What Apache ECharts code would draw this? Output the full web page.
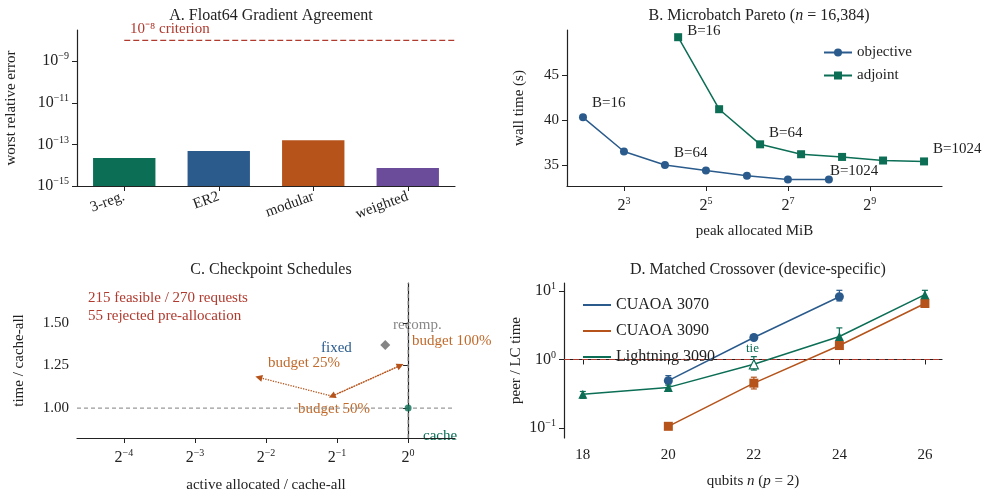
<!DOCTYPE html>
<html>
<head>
<meta charset="utf-8">
<script src="https://cdn.jsdelivr.net/npm/echarts@6/dist/echarts.min.js"></script>
<style>html,body{margin:0;background:#fff}#chart{width:993px;height:494px}</style>
</head>
<body>
<div id="chart"></div>
<script>
// A. gradient agreement
const graphTypes = ['3-reg.', 'ER2', 'modular', 'weighted'];
const worstError = [2.2e-14, 4.8e-14, 1.6e-13, 7.4e-15];
const criterion = 1e-8;

// B. microbatch pareto (MiB, seconds)
const objMiB = [4, 8, 16, 32, 64, 128, 256];
const objTime = [40.3, 36.5, 35.0, 34.4, 33.8, 33.4, 33.4];
const adjMiB = [20, 40, 80, 160, 320, 640, 1280];
const adjTime = [49.2, 41.2, 37.3, 36.2, 35.9, 35.5, 35.4];
const batchLabels = ['B=16', '', 'B=64', '', '', '', 'B=1024'];

// C. checkpoint schedules (ratio to cache-all)
const recompPoint = [0.8, 1.37];
const cachePoint = [1.0, 1.0];
const budgetMem = [0.233, 0.476, 0.927];
const budgetTime = [1.18, 1.07, 1.25];

// D. matched crossover
const qubits = [18, 20, 22, 24, 26];
const cuaoa3070 = [null, 0.49, 2.1, 8.3, null];
const cuaoa3070Lo = [null, 0.44, 1.95, 7.2, null];
const cuaoa3070Hi = [null, 0.58, 2.25, 10.3, null];
const cuaoa3090 = [null, 0.105, 0.45, 1.6, 6.6];
const cuaoa3090Lo = [null, 0.1, 0.37, 1.5, 6.3];
const cuaoa3090Hi = [null, 0.11, 0.55, 1.75, 7.0];
const light3090 = [0.31, 0.39, 0.85, 2.17, 8.9];
const light3090Lo = [0.27, 0.37, 0.7, 1.8, 7.7];
const light3090Hi = [0.34, 0.42, 1.1, 2.9, 10.3];

const GREEN = '#0b6e55', BLUE = '#2a5b8c', ORANGE = '#b5531a', PURPLE = '#6b4c9a', RED = '#b03a2e', GRAY = '#666';
const FONT = 'Liberation Serif';
const sup = { s: { fontSize: 10, fontFamily: FONT, color: '#222', padding: [0, 0, 9, 0] }, b: { fontSize: 16, fontFamily: FONT, color: '#222' } };
const powLabel = (base, e) => '{b|' + base + '}{s|' + String(e).replace('-', '−') + '}';
const lg10 = v => v == null ? null : Math.log10(v);
const lg2 = v => Math.log2(v);

const axisLine = { show: true, lineStyle: { color: '#222', width: 1.2 } };
const axisTick = { show: true, length: 5, lineStyle: { color: '#222' } };
const nameStyle = { fontFamily: FONT, fontSize: 15, color: '#222' };
const labelStyle = { fontFamily: FONT, fontSize: 15, color: '#222' };

const A_MIN = -15, A_MAX = -7.5;
const C_XMIN = -4.66, C_XMAX = 0.66, C_YMIN = 0.824, C_YMAX = 1.735;
const D_XMIN = 17.56, D_XMAX = 26.4;

const chart = echarts.init(document.getElementById('chart'));

function errBars(color, lo, hi) {
  return {
    type: 'custom', xAxisIndex: 3, yAxisIndex: 3, z: 1,
    data: qubits.map((q, i) => [q, lg10(lo[i]), lg10(hi[i])]).filter(d => d[1] != null),
    renderItem: (params, api) => {
      const a = api.coord([api.value(0), api.value(1)]);
      const b = api.coord([api.value(0), api.value(2)]);
      const st = { stroke: color, lineWidth: 1.2 };
      return { type: 'group', children: [
        { type: 'line', shape: { x1: a[0], y1: a[1], x2: b[0], y2: b[1] }, style: st },
        { type: 'line', shape: { x1: a[0] - 3, y1: a[1], x2: a[0] + 3, y2: a[1] }, style: st },
        { type: 'line', shape: { x1: b[0] - 3, y1: b[1], x2: b[0] + 3, y2: b[1] }, style: st }
      ] };
    }
  };
}

function batchData(xs, ys, offsets) {
  return xs.map((x, i) => {
    const item = { value: [lg2(x), ys[i]] };
    if (batchLabels[i]) item.label = { show: true, formatter: batchLabels[i], position: 'right', offset: offsets[i], fontFamily: FONT, fontSize: 15, color: '#222' };
    return item;
  });
}

function refLine(x, y, color, type) {
  return { type: 'line', xAxisIndex: x.axis, yAxisIndex: x.axis, symbol: 'none', silent: true, z: 0,
    lineStyle: { color, type, width: 1.2 }, data: x.pts };
}

const option = {
  animation: false,
  textStyle: { fontFamily: FONT },
  title: [
    { text: 'A. Float64 Gradient Agreement', left: 266, top: 3, textAlign: 'center' },
    { text: 'B. Microbatch Pareto ({i|n} = 16,384)', left: 754, top: 3, textAlign: 'center' },
    { text: 'C. Checkpoint Schedules', left: 266, top: 257, textAlign: 'center' },
    { text: 'D. Matched Crossover (device-specific)', left: 753, top: 257, textAlign: 'center' }
  ].map(t => Object.assign(t, { textStyle: { fontFamily: FONT, fontSize: 16, fontWeight: 'normal', color: '#222',
    rich: { i: { fontStyle: 'italic', fontFamily: FONT, fontSize: 16, color: '#222' } } } })),
  grid: [
    { left: 77, top: 30, width: 378, height: 156 },
    { left: 567, top: 30, width: 375, height: 156 },
    { left: 77, top: 283, width: 378, height: 155 },
    { left: 564, top: 283, width: 378, height: 155 }
  ],
  legend: [
    { data: ['objective', 'adjoint'], left: 818, top: 40, orient: 'vertical', itemGap: 8, itemWidth: 28, itemHeight: 10,
      textStyle: { fontFamily: FONT, fontSize: 15, color: '#222' } },
    { data: ['CUAOA 3070', 'CUAOA 3090', 'Lightning 3090'], left: 578, top: 292, orient: 'vertical', itemGap: 10, itemWidth: 28,
      icon: 'path://M0,0 L28,0 L28,2 L0,2 Z', itemHeight: 2,
      textStyle: { fontFamily: FONT, fontSize: 16, color: '#222' } }
  ],
  xAxis: [
    { type: 'category', gridIndex: 0, data: graphTypes, axisLine, axisTick: Object.assign({ alignWithLabel: true }, axisTick),
      axisLabel: Object.assign({ rotate: 20, margin: 10 }, labelStyle) },
    { type: 'value', gridIndex: 1, min: 1.61, max: 10.76, splitLine: { show: false }, axisLine,
      axisTick: Object.assign({ customValues: [3, 5, 7, 9] }, axisTick),
      axisLabel: { customValues: [3, 5, 7, 9], formatter: v => powLabel(2, v), rich: sup, margin: 10 },
      name: 'peak allocated MiB', nameLocation: 'middle', nameGap: 38, nameTextStyle: nameStyle },
    { type: 'value', gridIndex: 2, min: C_XMIN, max: C_XMAX, splitLine: { show: false }, axisLine,
      axisTick: Object.assign({ customValues: [-4, -3, -2, -1, 0] }, axisTick),
      axisLabel: { customValues: [-4, -3, -2, -1, 0], formatter: v => powLabel(2, v), rich: sup, margin: 10 },
      name: 'active allocated / cache-all', nameLocation: 'middle', nameGap: 40, nameTextStyle: nameStyle },
    { type: 'value', gridIndex: 3, min: D_XMIN, max: D_XMAX, splitLine: { show: false }, axisLine,
      axisTick: Object.assign({ customValues: qubits }, axisTick),
      axisLabel: Object.assign({ customValues: qubits, margin: 10 }, labelStyle),
      name: 'qubits {i|n} ({i|p} = 2)', nameLocation: 'middle', nameGap: 36,
      nameTextStyle: Object.assign({ rich: { i: { fontStyle: 'italic', fontFamily: FONT, fontSize: 15, color: '#222' } } }, nameStyle) }
  ],
  yAxis: [
    { type: 'value', gridIndex: 0, min: A_MIN, max: A_MAX, splitLine: { show: false }, axisLine,
      axisTick: Object.assign({ customValues: [-15, -13, -11, -9] }, axisTick),
      axisLabel: { customValues: [-15, -13, -11, -9], formatter: v => powLabel(10, v), rich: sup },
      name: 'worst relative error', nameLocation: 'middle', nameGap: 58, nameTextStyle: nameStyle },
    { type: 'value', gridIndex: 1, min: 32.67, max: 50, splitLine: { show: false }, axisLine,
      axisTick: Object.assign({ customValues: [35, 40, 45] }, axisTick),
      axisLabel: Object.assign({ customValues: [35, 40, 45] }, labelStyle),
      name: 'wall time (s)', nameLocation: 'middle', nameGap: 40, nameTextStyle: nameStyle },
    { type: 'value', gridIndex: 2, min: C_YMIN, max: C_YMAX, splitLine: { show: false }, axisLine,
      axisTick: Object.assign({ customValues: [1, 1.25, 1.5] }, axisTick),
      axisLabel: Object.assign({ customValues: [1, 1.25, 1.5], formatter: v => v.toFixed(2) }, labelStyle),
      name: 'time / cache-all', nameLocation: 'middle', nameGap: 50, nameTextStyle: nameStyle },
    { type: 'value', gridIndex: 3, min: -1.15, max: 1.12, splitLine: { show: false }, axisLine,
      axisTick: Object.assign({ customValues: [-1, 0, 1] }, axisTick),
      axisLabel: { customValues: [-1, 0, 1], formatter: v => powLabel(10, v), rich: sup },
      name: 'peer / LC time', nameLocation: 'middle', nameGap: 40, nameTextStyle: nameStyle }
  ],
  series: [
    { type: 'custom', xAxisIndex: 0, yAxisIndex: 0,
      data: worstError.map((v, i) => [i, lg10(v)]),
      renderItem: (params, api) => {
        const top = api.coord([api.value(0), api.value(1)]);
        const base = api.coord([api.value(0), A_MIN]);
        const w = api.size([1, 0])[0] * 0.66;
        return { type: 'rect', shape: { x: top[0] - w / 2, y: top[1], width: w, height: base[1] - top[1] },
          style: { fill: [GREEN, BLUE, ORANGE, PURPLE][params.dataIndex] } };
      } },
    { type: 'line', xAxisIndex: 0, yAxisIndex: 0, symbol: 'none', silent: true,
      lineStyle: { color: RED, type: [6, 3], width: 1.3 },
      data: [[-0.5, lg10(criterion)], [3.5, lg10(criterion)]] },

    { name: 'objective', type: 'line', xAxisIndex: 1, yAxisIndex: 1, color: BLUE, symbol: 'circle', symbolSize: 8,
      lineStyle: { width: 1.5 }, data: batchData(objMiB, objTime, [[0, -14], 0, [0, -12], 0, 0, 0, [-8, -8]]) },
    { name: 'adjoint', type: 'line', xAxisIndex: 1, yAxisIndex: 1, color: GREEN, symbol: 'rect', symbolSize: 8,
      lineStyle: { width: 1.5 }, data: batchData(adjMiB, adjTime, [[0, -6], 0, [0, -11], 0, 0, 0, [0, -12]]) },

    refLine({ axis: 2, pts: [[0, C_YMIN], [0, C_YMAX]] }, null, '#999', [4, 3]),
    refLine({ axis: 2, pts: [[C_XMIN, 1], [C_XMAX, 1]] }, null, '#999', [4, 3]),
    { type: 'scatter', xAxisIndex: 2, yAxisIndex: 2, symbol: 'diamond', symbolSize: 10, itemStyle: { color: GRAY },
      data: [[lg2(recompPoint[0]), recompPoint[1]]] },
    { type: 'scatter', xAxisIndex: 2, yAxisIndex: 2, symbol: 'circle', symbolSize: 7, itemStyle: { color: GREEN },
      data: [[lg2(cachePoint[0]), cachePoint[1]]] },
    { type: 'line', xAxisIndex: 2, yAxisIndex: 2, symbol: 'none', data: [],
      markLine: { silent: true, symbol: ['none', 'triangle'], symbolSize: 7, label: { show: false },
        lineStyle: { color: ORANGE, type: 'dotted', width: 1.3 },
        data: [
          [{ coord: [lg2(budgetMem[1]), budgetTime[1]] }, { coord: [lg2(budgetMem[0]), budgetTime[0]] }],
          [{ coord: [lg2(budgetMem[1]), budgetTime[1]] }, { coord: [lg2(budgetMem[2]), budgetTime[2]] }],
          [{ coord: [lg2(budgetMem[2]), budgetTime[2]] }, { coord: [lg2(budgetMem[1]), budgetTime[1]] }]
        ] } },

    refLine({ axis: 3, pts: [[D_XMIN, 0], [D_XMAX, 0]] }, null, RED, [6, 3]),
    errBars(BLUE, cuaoa3070Lo, cuaoa3070Hi),
    errBars(ORANGE, cuaoa3090Lo, cuaoa3090Hi),
    errBars(GREEN, light3090Lo, light3090Hi),
    { name: 'CUAOA 3070', type: 'line', xAxisIndex: 3, yAxisIndex: 3, color: BLUE, symbol: 'circle', symbolSize: 9, lineStyle: { width: 1.5 },
      data: qubits.map((q, i) => [q, lg10(cuaoa3070[i])]).filter(d => d[1] != null) },
    { name: 'CUAOA 3090', type: 'line', xAxisIndex: 3, yAxisIndex: 3, color: ORANGE, symbol: 'rect', symbolSize: 9, lineStyle: { width: 1.5 },
      data: qubits.map((q, i) => [q, lg10(cuaoa3090[i])]).filter(d => d[1] != null) },
    { name: 'Lightning 3090', type: 'line', xAxisIndex: 3, yAxisIndex: 3, color: GREEN, symbol: 'triangle', symbolSize: 9, lineStyle: { width: 1.5 },
      data: qubits.map((q, i) => {
        const d = { value: [q, lg10(light3090[i])] };
        if (q === 22) d.itemStyle = { color: '#fff', borderColor: GREEN, borderWidth: 1.2 };
        return d;
      }) }
  ],
  graphic: [
    { type: 'text', left: 130, top: 22, style: { text: '10⁻⁸ criterion', font: '15px ' + FONT, fill: RED } },
    { type: 'text', left: 88, top: 289, style: { text: '215 feasible / 270 requests\n55 rejected pre-allocation', font: '15px ' + FONT, fill: RED, lineHeight: 18 } },
    { type: 'text', left: 321, top: 341, style: { text: 'fixed', font: '15px ' + FONT, fill: BLUE } },
    { type: 'text', left: 393, top: 318, style: { text: 'recomp.', font: '15px ' + FONT, fill: '#888' } },
    { type: 'text', left: 412, top: 334, style: { text: 'budget 100%', font: '15px ' + FONT, fill: '#c0692a' } },
    { type: 'text', left: 268, top: 356, style: { text: 'budget 25%', font: '15px ' + FONT, fill: '#c0692a' } },
    { type: 'text', left: 298, top: 402, style: { text: 'budget 50%', font: '15px ' + FONT, fill: '#c0692a' } },
    { type: 'text', left: 423, top: 429, style: { text: 'cache', font: '15px ' + FONT, fill: GREEN } },
    { type: 'text', left: 746, top: 342, style: { text: 'tie', font: '13px ' + FONT, fill: GREEN } }
  ]
};
chart.setOption(option);
</script>
</body>
</html>
